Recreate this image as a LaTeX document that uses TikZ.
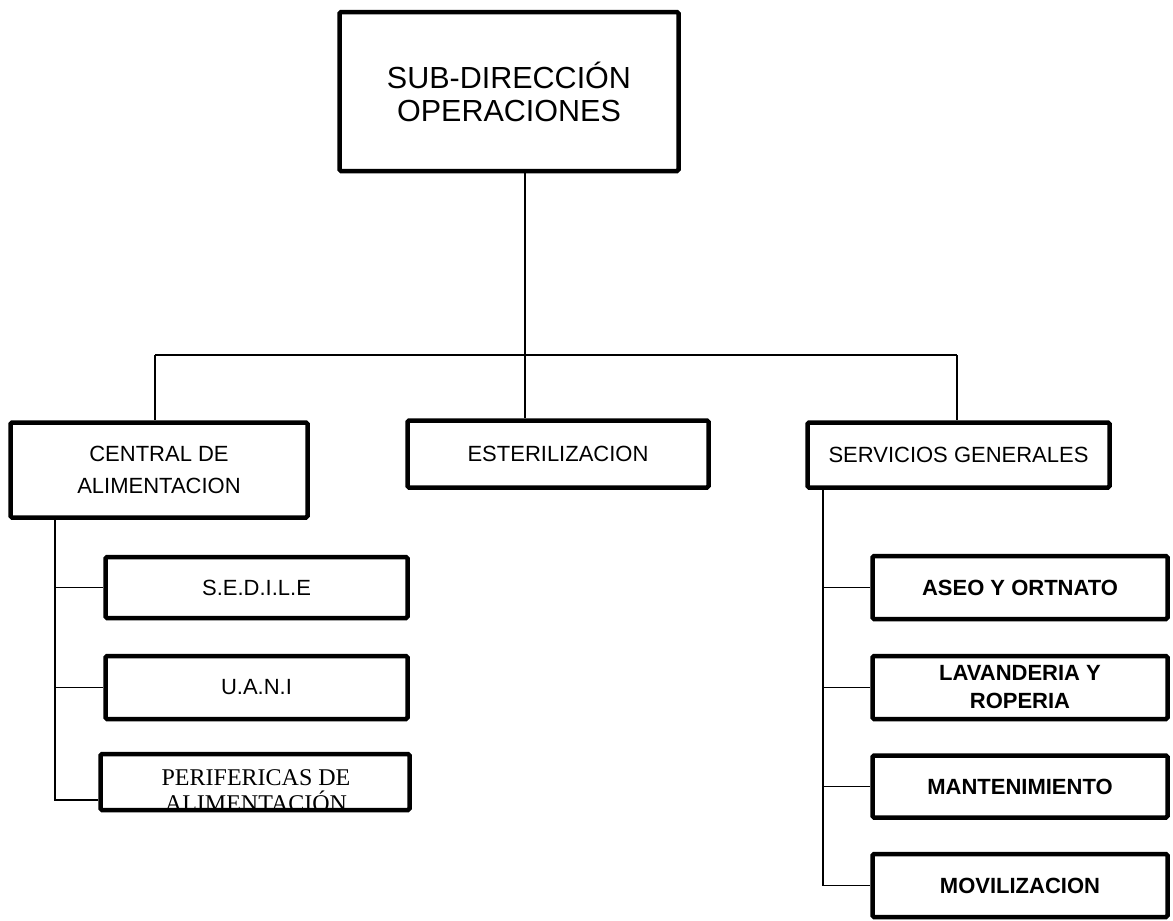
\documentclass[tikz,border=0pt]{standalone}
\usepackage{fontspec}
\setmainfont{Liberation Sans}
\newfontfamily\timesfont{Liberation Serif}
\begin{document}
\begin{tikzpicture}[x=1pt,y=-1pt,
  box/.style={draw, line width=4.5pt, rounded corners=1.5pt, inner sep=0pt,
    align=center, font=\fontsize{22}{28}\selectfont},
  subbox/.style={box, minimum width=300pt, minimum height=63pt},
  boldbox/.style={subbox, font=\fontsize{22}{28}\selectfont\bfseries},
  link/.style={line width=1.8pt}]
\useasboundingbox (0,0) rectangle (1173,921);

% head of the chart
\node[box, minimum width=339pt, minimum height=159pt,
      font=\fontsize{30.5}{33}\selectfont] (top) at (509,91.5)
      {SUB-DIRECCIÓN\\OPERACIONES};

% second level
\node[box, minimum width=297pt, minimum height=95pt,
      font=\fontsize{22}{32}\selectfont] (cen) at (159,470)
      {CENTRAL DE\\ALIMENTACION};
\node[box, minimum width=301pt, minimum height=67pt] (est) at (558,454)
      {ESTERILIZACION};
\node[box, minimum width=302pt, minimum height=65pt] (serv) at (958.5,455)
      {SERVICIOS GENERALES};

% units under the food service
\node[subbox, minimum width=302pt, minimum height=61pt] (sedile) at (256.5,587.5) {S.E.D.I.L.E};
\node[subbox, minimum width=302pt] (uani) at (256.5,687.5) {U.A.N.I};
\node[subbox, minimum width=309pt, minimum height=56pt] (perif) at (255,782) {};
\begin{scope}
  \clip (perif.south west) rectangle (perif.north east);
  \node[align=center, inner sep=0pt, font=\timesfont\fontsize{24}{26}\selectfont]
    (periftext) at (256,791) {PERIFERICAS DE\\ALIMENTACIÓN};
\end{scope}

% units under general services
\node[boldbox, minimum width=295pt] (aseo) at (1020,587.5) {ASEO Y ORTNATO};
\node[boldbox, minimum width=295pt] (lav) at (1020,687.5) {LAVANDERIA Y\\ROPERIA};
\node[boldbox, minimum width=295pt, minimum height=62pt] (mant) at (1020,786.5) {MANTENIMIENTO};
\node[boldbox, minimum width=295pt] (mov) at (1020,885.5) {MOVILIZACION};

% distribution bus
\coordinate (hub) at (525,355);
\coordinate (busL) at (155,355);
\coordinate (busR) at (957,355);
\draw[link] (hub) -- (hub |- top.south);
\draw[link] (busL) -- (busR);
\draw[link] (busL) -- (busL |- cen.north);
\draw[link] (hub) -- (hub |- est.north);
\draw[link] (busR) -- (busR |- serv.north);

% left spine
\coordinate (ls) at (55,520);
\coordinate (pj) at (perif.west |- 0,800);
\draw[link] (ls) |- (sedile.west);
\draw[link] (ls) |- (uani.west);
\draw[link] (ls) |- (pj);

% right spine
\coordinate (rs) at (823,490);
\draw[link] (rs) |- (aseo.west);
\draw[link] (rs) |- (lav.west);
\draw[link] (rs) |- (mant.west);
\draw[link] (rs) |- (mov.west);
\end{tikzpicture}
\end{document}
